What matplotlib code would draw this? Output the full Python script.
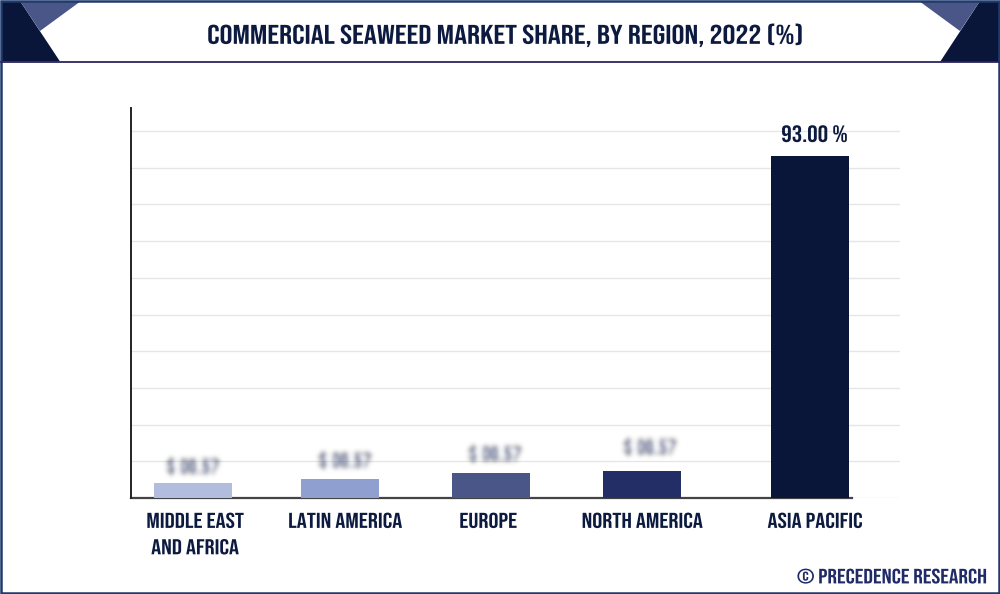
import matplotlib
matplotlib.use("Agg")
import numpy as np
import matplotlib.pyplot as plt
import matplotlib.patheffects as pe
from matplotlib import font_manager as fm
from matplotlib.patches import Polygon, Rectangle
from matplotlib.transforms import Affine2D

names = {f.name for f in fm.fontManager.ttflist}
prefs = ["Bebas Neue", "Barlow Condensed", "Roboto Condensed", "Liberation Sans Narrow", "Roboto"]
FONT = next(n for n in prefs if n in names)
WEIGHT = "normal" if FONT == "Bebas Neue" else "bold"

title = "COMMERCIAL SEAWEED MARKET SHARE, BY REGION, 2022 (%)"
categories = ["MIDDLE EAST\nAND AFRICA", "LATIN AMERICA", "EUROPE", "NORTH AMERICA", "ASIA PACIFIC"]
values = [4.0, 5.1, 6.9, 7.4, 93.2]
bar_labels = ["$ 00.57", "$ 00.57", "$ 00.57", "$ 00.57", "93.00 %"]
bar_colors = ["#b2bcdd", "#8f9fd0", "#4a5588", "#232e66", "#0a1639"]
bar_slots = [193, 340, 491, 642, 810]
label_slots = [195, 345, 488, 642, 815]
value_slots = [193, 345, 495, 650, 814.5]
value_lift = [9, 11, 11, 16, 14]
grid_ticks = list(range(0, 101, 10))
credit = "© PRECEDENCE RESEARCH"


class Widen(pe.AbstractPathEffect):
    """Stretch a text's glyphs sideways about a fixed pixel column."""
    def __init__(self, sx, x0):
        super().__init__()
        self.sx, self.x0 = sx, x0

    def draw_path(self, renderer, gc, tpath, affine, rgbFace=None):
        t = affine + Affine2D().translate(-self.x0, 0).scale(self.sx, 1).translate(self.x0, 0)
        renderer.draw_path(gc, tpath, t, rgbFace)


def blur(img, dpi, sigma=1.8):
    pad = int(3 * sigma) + 1
    a = np.pad(img, ((pad, pad), (pad, pad), (0, 0)))
    k = np.exp(-0.5 * (np.arange(-pad, pad + 1) / sigma) ** 2)
    k /= k.sum()
    for axis in (0, 1):
        a = np.apply_along_axis(lambda m: np.convolve(m, k, mode="same"), axis, a)
    return a, -pad, -pad


W, H = 1000, 594
fig = plt.figure(figsize=(W / 100, H / 100), dpi=100, facecolor="white")

bg = fig.add_axes([0, 0, 1, 1], zorder=0)
bg.set_xlim(0, W)
bg.set_ylim(H, 0)
bg.axis("off")
bg.add_patch(Polygon([(1, 1), (20, 1), (60, 61.5), (1, 61.5)], fc="#0a1639", ec="none"))
bg.add_patch(Polygon([(20, 1), (81, 1), (40, 31)], fc="#4a5588", ec="none"))
bg.add_patch(Polygon([(980, 1), (999, 1), (999, 61.5), (940, 61.5)], fc="#0a1639", ec="none"))
bg.add_patch(Polygon([(919, 1), (980, 1), (960, 31)], fc="#4a5588", ec="none"))
bg.plot([1, 999], [61.7, 61.7], color="#2a2560", lw=1.3)
bg.add_patch(Rectangle((0.8, 0.8), W - 1.6, H - 1.6, fc="none", ec="#1f3a6e", lw=1.8))
bg.text(506.5, 35, title, ha="center", va="center", family=FONT, weight=WEIGHT,
        fontsize=19.5, color="#0c1a40", path_effects=[Widen(1.195, 506.5)])
bg.text(988, 576, credit, ha="right", va="center", family=FONT, weight=WEIGHT,
        fontsize=15, color="#1f2a66", path_effects=[Widen(1.14, 988)])

L, R, T, B = 131, 900, 108, 498
ax = fig.add_axes([L / W, 1 - B / H, (R - L) / W, (B - T) / H], zorder=1)
ax.patch.set_alpha(0)
ax.set_xlim(L, R)
ax.set_ylim(0, (B - T) / 3.67)
ax.bar(bar_slots, values, width=78, color=bar_colors, zorder=3)
for s in ("top", "right"):
    ax.spines[s].set_visible(False)
ax.spines["left"].set_color("#222222")
ax.spines["left"].set_linewidth(1.4)
ax.spines["bottom"].set_color("#444444")
ax.spines["bottom"].set_linewidth(1.6)
ax.spines["bottom"].set_bounds(L, 852)
ax.spines["bottom"].set_zorder(2)
ax.set_yticks(grid_ticks)
ax.set_yticklabels([])
ax.yaxis.grid(True, color="#e6e6e6", lw=1, zorder=0)
ax.tick_params(axis="both", length=0)
ax.set_xticks(label_slots)
ax.set_xticklabels(categories, family=FONT, weight=WEIGHT, fontsize=15.5, color="#0c1a40",
                   linespacing=1.65)
ax.tick_params(axis="x", pad=10)
for lab, x in zip(ax.get_xticklabels(), label_slots):
    lab.set_path_effects([Widen(1.16, x)])

for i, (x, v, lab, lift) in enumerate(zip(value_slots, values, bar_labels, value_lift)):
    if i == len(values) - 1:
        ax.annotate(lab, (x, v), xytext=(0, lift), textcoords="offset pixels", ha="center",
                    va="bottom", family=FONT, weight=WEIGHT, fontsize=17, color="#0c1a40",
                    path_effects=[Widen(1.11, x)])
    else:
        t = ax.annotate(lab, (x, v), xytext=(0, lift), textcoords="offset pixels", ha="center",
                        va="bottom", family=FONT, weight=WEIGHT, fontsize=14.5,
                        color="#1a2555", zorder=4, path_effects=[Widen(1.1, x)])
        t.set_agg_filter(blur)

fig.savefig("out.png", dpi=100)
